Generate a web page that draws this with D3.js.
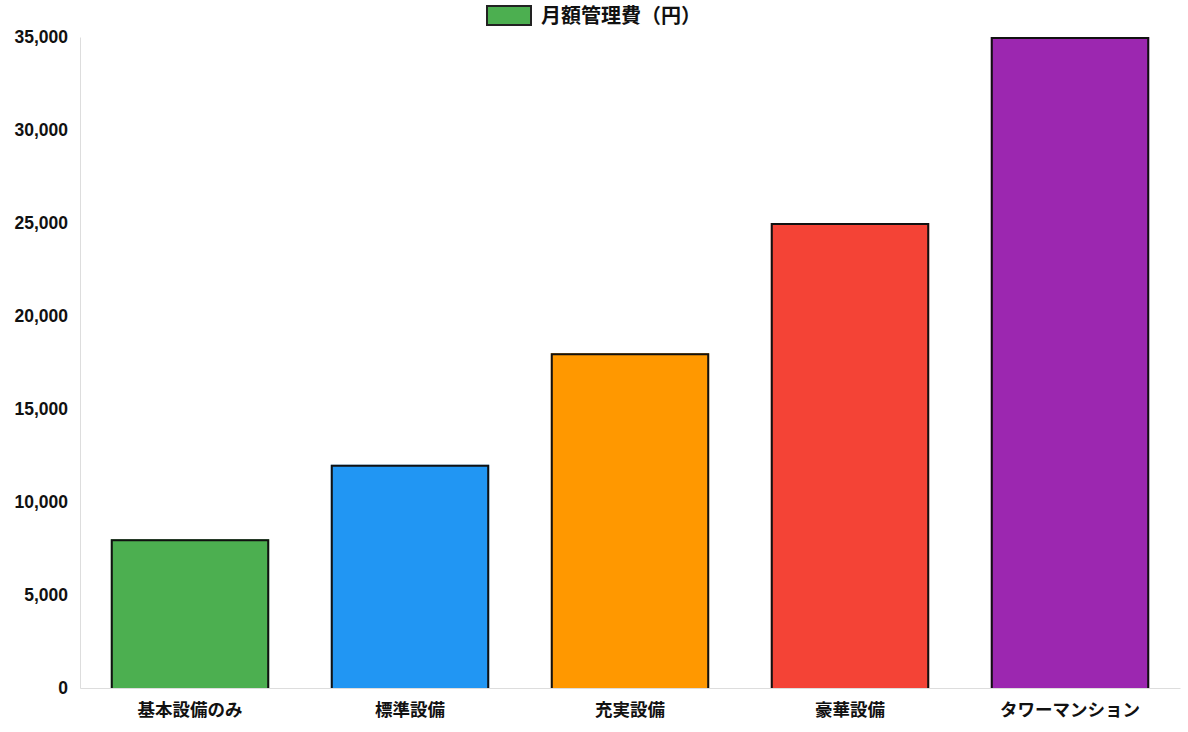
<!DOCTYPE html>
<html lang="ja">
<head>
  <meta charset="UTF-8">
  <title>月額管理費</title>
  <script src="https://d3js.org/d3.v7.min.js"></script>
  <style>
    html, body { margin: 0; padding: 0; background: #fff; }
    body { font-family: "Liberation Sans", "Noto Sans CJK JP", sans-serif; }
    .tick text { font-weight: bold; fill: #111; }
  </style>
</head>
<body>
  <div id="chart"></div>
  <script>
    // Data
    const categories = ["基本設備のみ", "標準設備", "充実設備", "豪華設備", "タワーマンション"];
    const fees = [8000, 12000, 18000, 25000, 35000];
    const colors = ["#4CAF50", "#2196F3", "#FF9800", "#F44336", "#9C27B0"];
    const yTicks = [0, 5000, 10000, 15000, 20000, 25000, 30000, 35000];
    const seriesName = "月額管理費（円）";

    const W = 1188, H = 732;
    const margin = {top: 37, right: 8, bottom: 44, left: 80};
    const width = W - margin.left - margin.right,
          height = H - margin.top - margin.bottom;

    const svg = d3.select("#chart")
      .append("svg")
      .attr("width", W)
      .attr("height", H);

    const g = svg.append("g")
      .attr("transform", `translate(${margin.left},${margin.top})`);

    const x = d3.scaleBand()
      .domain(categories)
      .range([0, width])
      .paddingInner(0)
      .paddingOuter(0);

    const y = d3.scaleLinear()
      .domain([0, 35000])
      .range([height, 0]);

    // bar width = 0.9 * 0.8 of the category slot
    const barW = x.bandwidth() * 0.72;
    const bx = i => x(categories[i]) + (x.bandwidth() - barW) / 2;

    // axis lines first so bars sit on top
    const yAxis = g.append("g")
      .call(d3.axisLeft(y).tickValues(yTicks).tickFormat(d3.format(",")).tickSize(0).tickPadding(12));
    yAxis.select(".domain").attr("stroke", "#ddd");
    yAxis.selectAll(".tick text").style("font-size", "17.5px").attr("dy", "0.34em");

    const xAxis = g.append("g")
      .attr("transform", `translate(0,${height})`)
      .call(d3.axisBottom(x).tickSize(0).tickPadding(16));
    xAxis.select(".domain").attr("stroke", "#ddd");
    xAxis.selectAll(".tick text")
      .style("font-size", "17.5px")
      .style("font-family", "'Noto Sans CJK JP', sans-serif");

    // bar fill
    g.selectAll("rect.bar")
      .data(fees)
      .join("rect")
      .attr("class", "bar")
      .attr("x", (d, i) => bx(i))
      .attr("y", d => y(d))
      .attr("width", barW)
      .attr("height", d => height - y(d))
      .attr("fill", (d, i) => colors[i]);

    // border drawn inside the bar, bottom edge skipped
    g.selectAll("path.border")
      .data(fees)
      .join("path")
      .attr("class", "border")
      .attr("fill", "none")
      .attr("stroke", "#111")
      .attr("stroke-width", 2)
      .attr("d", (d, i) => {
        const x0 = bx(i) + 1, x1 = bx(i) + barW - 1, top = y(d) + 1;
        return `M${x0},${height}L${x0},${top}L${x1},${top}L${x1},${height}`;
      });

    // legend
    const legend = svg.append("g").attr("transform", "translate(486,5)");
    legend.append("rect")
      .attr("x", 1).attr("y", 1)
      .attr("width", 44).attr("height", 19)
      .attr("fill", colors[0])
      .attr("stroke", "#222")
      .attr("stroke-width", 2);
    legend.append("text")
      .attr("x", 55).attr("y", 11)
      .attr("dy", "0.35em")
      .style("font-family", "'Noto Sans CJK JP', sans-serif")
      .style("font-size", "20px")
      .style("font-weight", "bold")
      .attr("fill", "#111")
      .text(seriesName);
  </script>
</body>
</html>
